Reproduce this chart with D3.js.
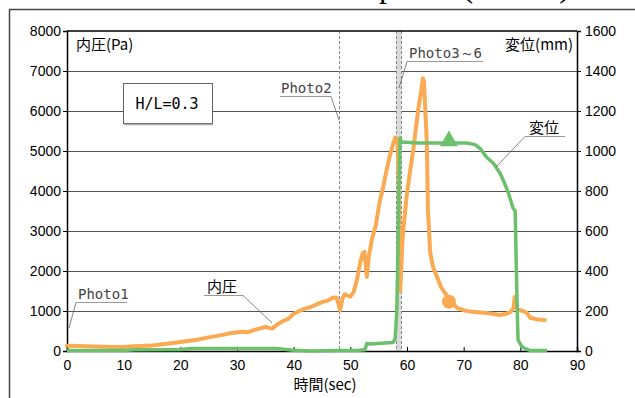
<!DOCTYPE html>
<html>
<head>
<meta charset="utf-8">
<script src="https://cdn.jsdelivr.net/npm/d3@7"></script>
<style>
  body { margin: 0; background: #fff; }
  svg { display: block; }
</style>
</head>
<body>
<svg id="chart"></svg>
<script>
// data
let pressureTicks = [0, 1000, 2000, 3000, 4000, 5000, 6000, 7000, 8000]
let dispTicks = [0, 200, 400, 600, 800, 1000, 1200, 1400, 1600]
let timeTicks = [0, 10, 20, 30, 40, 50, 60, 70, 80, 90]

// 内圧 (Pa) : [sec, Pa]
let pressure = [
  [0,130],[2,125],[5,115],[8,100],[10,100],[12,120],[15,140],[18,185],[20,225],[23,280],
  [25,340],[27,390],[29,450],[31,480],[32,470],[33,520],[35,600],[36.2,560],[37,650],[38,740],
  [39,800],[40,930],[41,1000],[42,1060],[43,1100],[44,1160],[45,1220],[46,1260],[47,1340],
  [47.6,1330],[48.2,1020],[48.6,1300],[49,1420],[49.6,1380],[50,1360],[50.6,1480],[51.2,1800],
  [51.8,2250],[52.2,2450],[52.5,2480],[52.9,1850],[53.3,2400],[53.8,2780],[54.5,3150],[55.2,3750],
  [55.8,4100],[56.4,4520],[57,4900],[57.5,5150],[57.9,5330],[58.3,5300],[58.5,4500],[58.7,2500],
  [58.8,1500],[59.0,2100],[59.2,2780],[59.6,3400],[60,3950],[60.6,4550],[61.1,5020],[61.6,5600],
  [62.0,6050],[62.5,6500],[62.8,6820],[63.0,6750],[63.3,5800],[63.5,5200],[63.7,3520],[64.1,2450],
  [64.6,2100],[65.3,1850],[66,1600],[66.7,1450],[67.6,1280],[68.8,1080],[70,1020],[71,990],
  [72.5,970],[74,950],[75,930],[76.4,900],[77.5,930],[78.3,980],[78.8,1080],[79.0,1350],
  [79.2,1150],[79.6,1030],[80.5,1000],[81.2,950],[81.7,830],[83,790],[84.3,775]
]

// 変位 (mm) : [sec, mm]
let displacement = [
  [0,2],[10,2],[12,6],[20,8],[22,12],[30,12],[37,12],[40,4],[43,0],[48,3],[51.5,4],[52.6,6],
  [52.9,38],[53.5,35],[57.5,42],[57.9,60],[58.2,200],[58.4,500],[58.6,850],[58.8,1065],[59,1045],
  [62,1040],[70.5,1040],[72,1032],[73,1010],[74,970],[75.2,940],[76.4,890],[77.2,840],[77.9,790],
  [78.7,715],[79.1,700],[79.3,400],[79.5,150],[79.6,55],[80.3,20],[81,10],[81.7,3],[84.7,3]
]

let markerPressure = [67.4, 1230]
let markerDisp = [67.4, 1045]

let photoLines = [48]          // Photo2
let photoBand = [58.1, 59.0]   // Photo3～6

let width = 635
let height = 398
let plotLeft = 67, plotRight = 577, plotTop = 31, plotBottom = 351

let svg = d3.select("#chart")
svg.attr("width", width).attr("height", height)

let X = d3.scaleLinear().domain([0, 90]).range([plotLeft, plotRight])
let Y = d3.scaleLinear().domain([0, 8000]).range([plotBottom, plotTop])
let Y2 = d3.scaleLinear().domain([0, 1600]).range([plotBottom, plotTop])

// title cut off by the top edge, only descenders show
svg.append("text")
   .attr("x", 322).attr("y", -3)
   .style("font-family", "Liberation Serif, serif")
   .style("font-size", "32px")
   .text("Sample M (Case 3)")

// outer frame (left + top)
svg.append("path")
   .attr("d", "M9.5," + height + "V9.5H" + width)
   .attr("fill", "none")
   .attr("stroke", "#444")
   .attr("stroke-width", 1.5)

// grid lines
svg.append("g")
   .selectAll("line")
   .data(pressureTicks.slice(1, -1))
   .enter()
   .append("line")
   .attr("x1", plotLeft).attr("x2", plotRight)
   .attr("y1", d => Math.round(Y(d)) + 0.5)
   .attr("y2", d => Math.round(Y(d)) + 0.5)
   .attr("stroke", "#555")
   .attr("stroke-width", 1)

// photo band + dashed lines
svg.append("rect")
   .attr("x", X(photoBand[0]))
   .attr("y", plotTop)
   .attr("width", X(photoBand[1]) - X(photoBand[0]))
   .attr("height", plotBottom - plotTop)
   .attr("fill", "#d9d9d9")

svg.append("g")
   .selectAll("line")
   .data(photoLines.concat(photoBand))
   .enter()
   .append("line")
   .attr("x1", d => Math.round(X(d)) + 0.5)
   .attr("x2", d => Math.round(X(d)) + 0.5)
   .attr("y1", plotTop).attr("y2", plotBottom)
   .attr("stroke", "#888")
   .attr("stroke-width", 1)
   .attr("stroke-dasharray", "3,2")

// axes
let axisFont = "Liberation Sans, Arial, sans-serif"
let fmt = d3.format("d")

let yaxis = d3.axisLeft(Y).tickValues(pressureTicks).tickFormat(fmt).tickSize(4).tickPadding(2)
let gy = svg.append("g").attr("transform", "translate(" + plotLeft + ",0)").call(yaxis)

let yaxis2 = d3.axisRight(Y2).tickValues(dispTicks).tickFormat(fmt).tickSize(4).tickPadding(4)
let gy2 = svg.append("g").attr("transform", "translate(" + plotRight + ",0)").call(yaxis2)

let xaxis = d3.axisBottom(X).tickValues(timeTicks).tickFormat(fmt).tickSize(-4).tickPadding(9)
let gx = svg.append("g").attr("transform", "translate(0," + plotBottom + ")").call(xaxis)

;[gy, gy2, gx].forEach(g => {
    g.attr("font-family", axisFont).attr("font-size", 14)
    g.select(".domain").attr("stroke", "#000").attr("stroke-width", 1.5)
    g.selectAll(".tick line").attr("stroke", "#000")
    g.selectAll("text").attr("fill", "#000")
})

// top border of plot
svg.append("line")
   .attr("x1", plotLeft).attr("x2", plotRight)
   .attr("y1", plotTop).attr("y2", plotTop)
   .attr("stroke", "#000").attr("stroke-width", 1.5)

// series
let linePressure = d3.line().x(d => X(d[0])).y(d => Y(d[1]))
let lineDisp = d3.line().x(d => X(d[0])).y(d => Y2(d[1]))

svg.append("path")
   .attr("d", linePressure(pressure))
   .attr("fill", "none")
   .attr("stroke", "#F9AA52")
   .attr("stroke-width", 4)
   .attr("stroke-linejoin", "round")
   .attr("stroke-linecap", "round")

svg.append("circle")
   .attr("cx", X(markerPressure[0]))
   .attr("cy", Y(markerPressure[1]))
   .attr("r", 7)
   .attr("fill", "#F9AA52")

svg.append("path")
   .attr("d", lineDisp(displacement))
   .attr("fill", "none")
   .attr("stroke", "#6CC06C")
   .attr("stroke-width", 3.5)
   .attr("stroke-linejoin", "round")

svg.append("path")
   .attr("d", d3.symbol().type(d3.symbolTriangle).size(140)())
   .attr("transform", "translate(" + X(markerDisp[0]) + "," + (Y2(markerDisp[1]) - 1) + ")")
   .attr("fill", "#6CC06C")

// axis titles
let jpFont = "Noto Sans CJK JP, sans-serif"
svg.append("text").attr("x", 76).attr("y", 50)
   .style("font-family", jpFont).style("font-size", "15px")
   .text("内圧(Pa)")
svg.append("text").attr("x", 573).attr("y", 50)
   .style("font-family", jpFont).style("font-size", "15px")
   .style("text-anchor", "end")
   .text("変位(mm)")
svg.append("text").attr("x", 325).attr("y", 390)
   .style("font-family", jpFont).style("font-size", "15px")
   .style("text-anchor", "middle")
   .text("時間(sec)")

// H/L box
svg.append("rect")
   .attr("x", 123.5).attr("y", 83.5).attr("width", 89).attr("height", 40)
   .attr("fill", "#fff").attr("stroke", "#666").attr("stroke-width", 1)
svg.append("line")
   .attr("x1", 124).attr("x2", 213).attr("y1", 124.5).attr("y2", 124.5)
   .attr("stroke", "#aaa").attr("stroke-width", 1.5)
svg.append("text").attr("x", 167).attr("y", 109)
   .style("font-family", "DejaVu Sans Mono, monospace").style("font-size", "15px")
   .style("text-anchor", "middle")
   .text("H/L=0.3")

// callouts: [text, x, baseline, underline x1, x2, leader end x, y, colour, leader starts at right end]
let callouts = [
  ["Photo1", 78, 299, 76, 127, 69, 328, "#444", false],
  ["Photo2", 281, 93, 280, 331, 339, 120, "#444", true],
  ["Photo3～6", 409, 58, 407, 483, 399, 88, "#444", false],
  ["内圧", 207, 292, 204, 243, 272, 323, "#000", true],
  ["変位", 529, 133, 525, 565, 496, 167, "#000", false]
]

callouts.forEach(c => {
    let isPhoto = c[0].startsWith("Photo")
    svg.append("text").attr("x", c[1]).attr("y", c[2])
       .style("font-family", isPhoto ? "DejaVu Sans Mono, monospace" : jpFont)
       .style("font-size", isPhoto ? "14px" : "15px")
       .attr("fill", c[7])
       .text(c[0])
    svg.append("line")
       .attr("x1", c[3]).attr("x2", c[4])
       .attr("y1", c[2] + 3.5).attr("y2", c[2] + 3.5)
       .attr("stroke", "#999").attr("stroke-width", 1.2)
    let lx = c[8] ? c[4] : c[3]
    svg.append("line")
       .attr("x1", lx).attr("y1", c[2] + 3.5)
       .attr("x2", c[5]).attr("y2", c[6])
       .attr("stroke", "#666").attr("stroke-width", 0.8)
})
</script>
</body>
</html>
